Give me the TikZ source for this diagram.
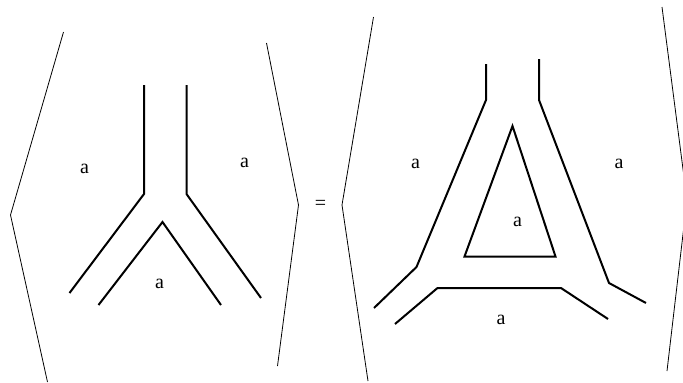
\documentclass[tikz,border=0pt]{standalone}
\usepackage{fontspec}
\setmainfont{Liberation Serif}
\begin{document}
\begin{tikzpicture}[
    x=1pt, y=-1pt,
    bracket/.style={line width=0.8pt, line join=miter},
    wire/.style={line width=2pt, line join=miter},
    lab/.style={font=\fontsize{20}{22}\selectfont, inner sep=0pt}
  ]
  \useasboundingbox (0,0) rectangle (683,383);
  \clip (0,0) rectangle (683,383);

  \draw[bracket] (63.5,32) -- (10.5,215) -- (47.5,382);
  \draw[bracket] (266.5,43) -- (298.5,205) -- (277.5,366);
  \node[lab] (eq) at (320.5,205) {=};

  \draw[wire] (144,85) -- (144,194) -- (69.5,293);
  \draw[wire] (186.5,85) -- (186.5,194) -- (261,298);
  \draw[wire] (98.5,305) -- (162.5,222) -- (221,305);
  \node[lab] (leftA) at (84.5,168.5) {a};
  \node[lab] (rightA) at (244.5,162.5) {a};
  \node[lab] (lowA) at (159.5,283.5) {a};

  \draw[bracket] (373.5,17) -- (342,205) -- (368,381);
  \draw[bracket] (662,7) -- (687,200) -- (667,371);

  \draw[wire] (486,64) -- (486,100) -- (416.5,267) -- (374,308);
  \draw[wire] (539,59) -- (539,100) -- (609,283) -- (646,303);
  \draw[wire] (512.5,126) -- (464.5,256.5) -- (555.5,256.5) -- cycle;
  \draw[wire] (395,324) -- (437.5,288) -- (561,288) -- (608,319);
  \node[lab] (leftB) at (415.5,163.5) {a};
  \node[lab] (rightB) at (619,163.5) {a};
  \node[lab] (midB) at (517.5,221.5) {a};
  \node[lab] (lowB) at (501,319.5) {a};
\end{tikzpicture}
\end{document}
